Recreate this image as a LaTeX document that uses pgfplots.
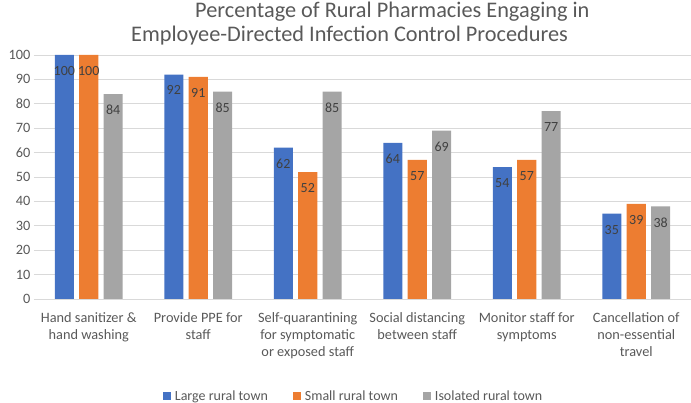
\documentclass[border=0pt]{standalone}
\usepackage{fontspec}
\setmainfont{Carlito}
\usepackage{pgfplots}
\pgfplotsset{compat=1.18}
\definecolor{cblue}{HTML}{4472C4}
\definecolor{corange}{HTML}{ED7D31}
\definecolor{cgray}{HTML}{A5A5A5}
\definecolor{ctext}{HTML}{595959}
\definecolor{clabel}{HTML}{404040}
\definecolor{cgrid}{HTML}{D9D9D9}
\begin{document}
\begin{tikzpicture}[x=1pt,y=1pt]
\useasboundingbox (0,0) rectangle (691,403);
\node[anchor=base west, inner sep=0, font=\fontsize{22.3}{26}\selectfont, text=ctext] at (195,385) {Percentage of Rural Pharmacies Engaging in};
\node[anchor=base west, inner sep=0, font=\fontsize{22.3}{26}\selectfont, text=ctext] at (131,361) {Employee-Directed Infection Control Procedures};
\begin{axis}[
  at={(34pt,104pt)}, anchor=south west,
  scale only axis, width=657pt, height=244pt,
  ybar, bar width=0.174,
  xmin=-0.5, xmax=5.5, ymin=0, ymax=100,
  enlarge x limits=false, enlarge y limits=false,
  xtick={0,1,2,3,4,5},
  xticklabels={{Hand sanitizer \&\\hand washing},{Provide PPE for\\staff},{Self-quarantining\\for symptomatic\\or exposed staff},{Social distancing\\between staff},{Monitor staff for\\symptoms},{Cancellation of\\non-essential\\travel}},
  ytick={0,10,...,100},
  ymajorgrids, grid style={cgrid, line width=0.9pt},
  axis line style={draw=none},
  major tick length=0pt,
  /pgf/number format/assume math mode=true,
  tick label style={font=\fontsize{14.3}{17}\selectfont, text=ctext},
  xticklabel style={align=center, yshift=-10.5pt},
  nodes near coords,
  every node near coord/.append style={font=\fontsize{14}{17}\selectfont, text=clabel, anchor=north, yshift=-7.8pt},
  legend columns=-1,
  legend style={at={(0.1578,-0.3975)}, anchor=west, draw=none, fill=none, inner sep=0pt,
    font=\fontsize{14}{17}\selectfont, text=ctext,
    nodes={inner sep=0pt, anchor=base west},
    /tikz/column sep=0pt},
  legend image code/.code={\path[draw=none,fill=none] (-25pt,0pt) rectangle (12pt,8pt); \fill[#1] (0pt,0pt) rectangle (8pt,8pt);},
]
\addplot[fill=cblue, draw=none, bar shift=-0.223] coordinates {(0,100) (1,92) (2,62) (3,64) (4,54) (5,35)};
\addplot[fill=corange, draw=none, bar shift=0] coordinates {(0,100) (1,91) (2,52) (3,57) (4,57) (5,39)};
\addplot[fill=cgray, draw=none, bar shift=0.223] coordinates {(0,84) (1,85) (2,85) (3,69) (4,77) (5,38)};
\legend{Large rural town, Small rural town, Isolated rural town}
\end{axis}
\end{tikzpicture}
\end{document}
